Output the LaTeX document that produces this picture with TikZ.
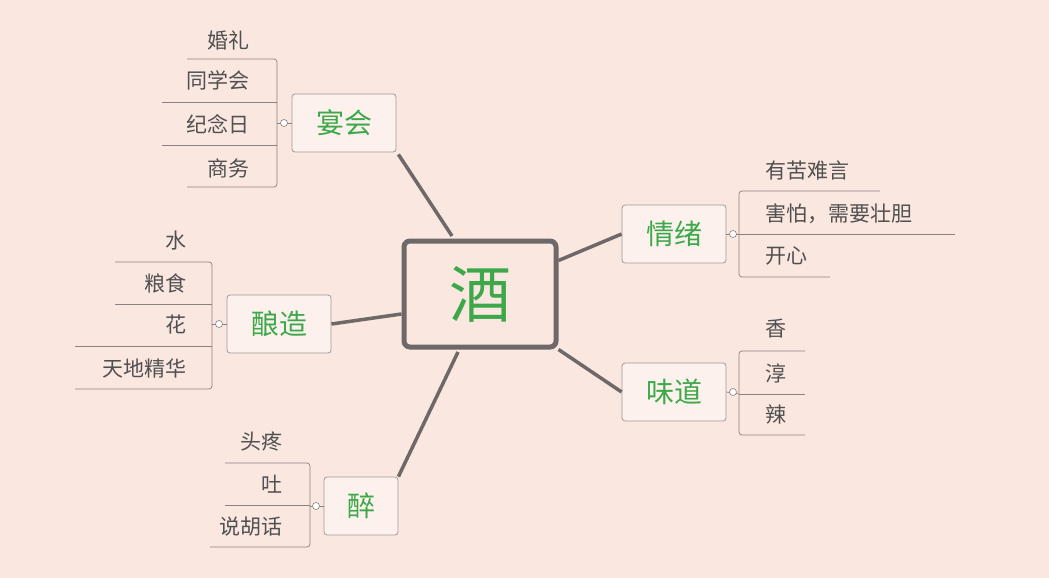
\documentclass[tikz,border=0pt]{standalone}
\usepackage{fontspec}
\setmainfont{Noto Sans CJK SC}
\begin{document}
\begin{tikzpicture}[x=1pt,y=-1pt]
\definecolor{bg}{HTML}{FAE7E0}
\definecolor{tx}{HTML}{505050}
\definecolor{gr}{HTML}{3DA84A}
\definecolor{ln}{HTML}{6E6868}
\definecolor{sl}{HTML}{8C8080}
\tikzset{
 br/.style={draw=sl!80,rounded corners=3pt,line width=0.8pt,minimum width=104pt,minimum height=58pt,text=gr,font=\fontsize{28}{28}\selectfont,fill=bg!60!white},
 lf/.style={text=tx,font=\fontsize{21}{21}\selectfont,inner sep=0pt},
 sep/.style={draw=sl,line width=0.7pt,rounded corners=3pt},
 con/.style={draw=ln,line width=3.5pt},
 knob/.style={circle,draw=sl,fill=white,inner sep=0pt,minimum size=7pt,line width=0.6pt}
}
\fill[bg] (0,0) rectangle (1049,578);
\useasboundingbox (0,0) rectangle (1049,578);
% center
\node[draw=ln,line width=5pt,rounded corners=6pt,minimum width=152pt,minimum height=106pt,text=gr,font=\fontsize{62}{62}\selectfont] (c) at (480,294) {酒};
% branches
\node[br] (b1) at (344,123) {宴会};
\node[br] (b2) at (674,234) {情绪};
\node[br] (b3) at (279,324) {酿造};
\node[br] (b4) at (674,392) {味道};
\node[br,minimum width=74pt] (b5) at (361,506) {醉};
\draw[con] (b1.south east) ++(2,2) coordinate (t1) -- (452,236);
\draw[con] (c.north east) ++(0,22) -- (b2.west);
\draw[con] (c.west) ++(0,20) -- (b3.east);
\draw[con] (c.south east) ++(0,0) -- (b4.west);
\draw[con] (458,352) -- (b5.north east);
% 宴会 leaves
\node[lf,anchor=east] (l11) at (250,40) {婚礼};
\node[lf,anchor=east] (l12) at (250,80) {同学会};
\node[lf,anchor=east] (l13) at (250,124) {纪念日};
\node[lf,anchor=east] (l14) at (250,168) {商务};
\draw[sep] (187,59) -- (277,59) -- (277,187) -- (187,187);
\draw[sep] (162,102) -- (277,102);
\draw[sep] (162,145) -- (277,145);
\draw[sep] (277,123) -- (b1.west);
\node[knob] (k1) at (284,123) {};
% 情绪 leaves
\node[lf,anchor=west] (l21) at (765,171) {有苦难言};
\node[lf,anchor=west] (l22) at (765,214) {害怕，需要壮胆};
\node[lf,anchor=west] (l23) at (765,256) {开心};
\draw[sep] (880,191) -- (739,191) -- (739,277) -- (830,277);
\draw[sep] (739,234) -- (955,234);
\draw[sep] (b2.east) -- (739,234);
\node[knob] (k2) at (733,234) {};
% 酿造 leaves
\node[lf,anchor=east] (l31) at (187,241) {水};
\node[lf,anchor=east] (l32) at (187,283) {粮食};
\node[lf,anchor=east] (l33) at (187,325) {花};
\node[lf,anchor=east] (l34) at (187,368) {天地精华};
\draw[sep] (115,262) -- (212,262) -- (212,389) -- (75,389);
\draw[sep] (115,304) -- (212,304);
\draw[sep] (75,346) -- (212,346);
\draw[sep] (212,324) -- (b3.west);
\node[knob] (k3) at (219,324) {};
% 味道 leaves
\node[lf,anchor=west] (l41) at (765,329) {香};
\node[lf,anchor=west] (l42) at (765,373) {淳};
\node[lf,anchor=west] (l43) at (765,414) {辣};
\draw[sep] (805,351) -- (739,351) -- (739,435) -- (805,435);
\draw[sep] (739,394) -- (805,394);
\draw[sep] (b4.east) -- (739,394);
\node[knob] (k4) at (733,392) {};
% 醉 leaves
\node[lf,anchor=east] (l51) at (283,441) {头疼};
\node[lf,anchor=east] (l52) at (283,484) {吐};
\node[lf,anchor=east] (l53) at (283,527) {说胡话};
\draw[sep] (225,463) -- (310,463) -- (310,547) -- (210,547);
\draw[sep] (225,505) -- (310,505);
\draw[sep] (310,506) -- (b5.west);
\node[knob] (k5) at (316,506) {};
\end{tikzpicture}
\end{document}
